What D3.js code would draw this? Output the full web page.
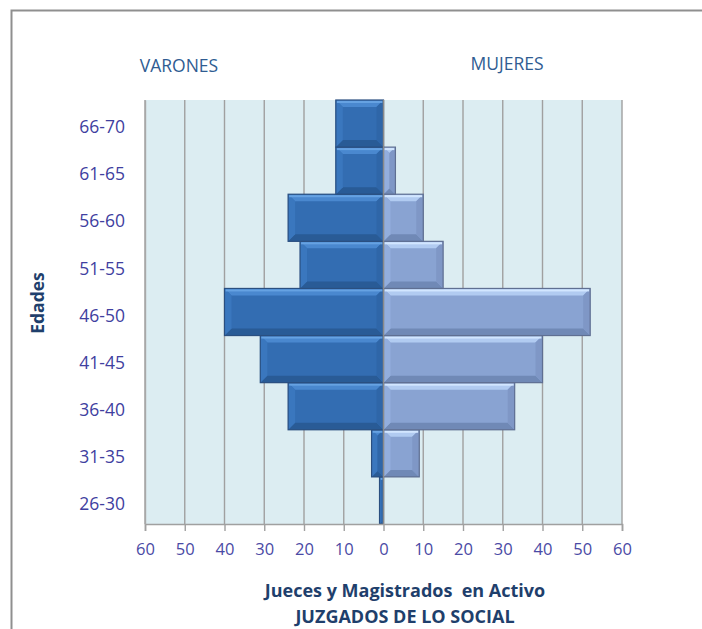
<!DOCTYPE html>
<html>
<head>
<meta charset="utf-8">
<script src="https://cdn.jsdelivr.net/npm/d3@7"></script>
<style>
  html, body { margin: 0; padding: 0; background: #fff; }
  svg { display: block; font-family: "Open Sans", sans-serif; }
</style>
</head>
<body>
<svg id="chart" width="702" height="629"></svg>
<script>
// Age groups, bottom to top
const categories = ["26-30", "31-35", "36-40", "41-45", "46-50", "51-55", "56-60", "61-65", "66-70"];
// Number of judges per age group
const varones = [1, 3, 24, 31, 40, 21, 24, 12, 12];
const mujeres = [0, 9, 33, 40, 52, 15, 10, 3, 0];
// Axis ticks (shown as absolute values on both sides)
const tickValues = [-60, -50, -40, -30, -20, -10, 0, 10, 20, 30, 40, 50, 60];

const svg = d3.select("#chart");

// Outer frame (left and top edges)
svg.append("path")
  .attr("d", "M11.5,629 L11.5,10.5 L702,10.5")
  .attr("fill", "none")
  .attr("stroke", "#8f8f8f")
  .attr("stroke-width", 2);

const plot = { left: 145, right: 622, top: 100, bottom: 524 };

const x = d3.scaleLinear().domain([-60, 60]).range([plot.left, plot.right]);
const y = d3.scaleBand().domain(categories.slice().reverse()).range([plot.top, plot.bottom]).padding(0);

// Plot background
svg.append("rect")
  .attr("x", plot.left).attr("y", plot.top)
  .attr("width", plot.right - plot.left).attr("height", plot.bottom - plot.top)
  .attr("fill", "#dcedf2");

// Vertical gridlines
svg.append("g").selectAll("line")
  .data(tickValues)
  .join("line")
  .attr("x1", d => x(d)).attr("x2", d => x(d))
  .attr("y1", plot.top).attr("y2", plot.bottom)
  .attr("stroke", "#a0a0a0")
  .attr("stroke-width", 1.4);

// Bevelled bar drawing
function bevelBar(g, x0, x1, y0, y1, pal) {
  const w = x1 - x0, h = y1 - y0;
  if (w <= 0) return;
  const b = Math.min(7, w / 2, h / 2);
  g.append("rect").attr("x", x0).attr("y", y0).attr("width", w).attr("height", h).attr("fill", pal.base);
  // top
  g.append("polygon").attr("points", [[x0, y0], [x1, y0], [x1 - b, y0 + b], [x0 + b, y0 + b]].join(" ")).attr("fill", pal.top);
  // bottom
  g.append("polygon").attr("points", [[x0, y1], [x1, y1], [x1 - b, y1 - b], [x0 + b, y1 - b]].join(" ")).attr("fill", pal.bottom);
  // left
  g.append("polygon").attr("points", [[x0, y0], [x0 + b, y0 + b], [x0 + b, y1 - b], [x0, y1]].join(" ")).attr("fill", pal.left);
  // right
  g.append("polygon").attr("points", [[x1, y0], [x1 - b, y0 + b], [x1 - b, y1 - b], [x1, y1]].join(" ")).attr("fill", pal.right);
  // top highlight strip
  g.append("rect").attr("x", x0 + 1).attr("y", y0 + 1).attr("width", Math.max(0, w - 2)).attr("height", Math.min(2, h)).attr("fill", pal.shine);
  // outline
  g.append("rect").attr("x", x0).attr("y", y0).attr("width", w).attr("height", h)
    .attr("fill", "none").attr("stroke", pal.edge).attr("stroke-width", 1.2);
}

const darkPal = { base: "#336db2", top: "#4a88cf", bottom: "#295b96", left: "#3a77be", right: "#2f66a8", shine: "#66a2e2", edge: "#2a4f80" };
const lightPal = { base: "#89a3d2", top: "#b1cbf1", bottom: "#7089b6", left: "#93aedd", right: "#7f97c6", shine: "#d2e6ff", edge: "#5f6f92" };

const bars = svg.append("g");
categories.forEach((c, i) => {
  const y0 = y(c), y1 = y(c) + y.bandwidth();
  bevelBar(bars, x(-varones[i]), x(0), y0, y1, darkPal);
  bevelBar(bars, x(0), x(mujeres[i]), y0, y1, lightPal);
});

// Zero line over the bars
svg.append("line")
  .attr("x1", x(0)).attr("x2", x(0)).attr("y1", plot.top).attr("y2", plot.bottom)
  .attr("stroke", "#8a8a8a").attr("stroke-width", 1.4);

const xAxis = d3.axisBottom(x)
  .tickValues(tickValues)
  .tickSize(7)
  .tickPadding(12)
  .tickFormat(d => Math.abs(d));

const gx = svg.append("g")
  .attr("transform", `translate(0,${plot.bottom})`)
  .call(xAxis);
gx.select(".domain").attr("stroke", "#a0a0a0").attr("stroke-width", 1.6);
gx.selectAll(".tick line").attr("stroke", "#a0a0a0").attr("stroke-width", 1.4);
gx.selectAll(".tick text")
  .attr("font-family", "Open Sans, sans-serif")
  .attr("font-size", 16.5)
  .attr("fill", "#4a4aa5");

// Category labels
const yAxis = d3.axisLeft(y).tickSize(0).tickPadding(20);
const gy = svg.append("g")
  .attr("transform", `translate(${plot.left},0)`)
  .call(yAxis);
gy.select(".domain").attr("stroke", "#a8a8a8").attr("stroke-width", 1.4);
gy.selectAll(".tick text")
  .attr("font-family", "Open Sans, sans-serif")
  .attr("font-size", 17.5)
  .attr("fill", "#4040a0")
  .attr("dy", "0.55em");

// Side headings
svg.append("text").attr("x", 179).attr("y", 72).attr("text-anchor", "middle")
  .attr("font-size", 17.5).attr("fill", "#2f5c92").text("VARONES");
svg.append("text").attr("x", 507).attr("y", 70).attr("text-anchor", "middle")
  .attr("font-size", 17.5).attr("fill", "#2f5c92").text("MUJERES");

// Axis title
svg.append("text")
  .attr("transform", "translate(44,303) rotate(-90)")
  .attr("text-anchor", "middle")
  .attr("font-size", 17.5).attr("font-weight", "bold").attr("fill", "#1f3f6c")
  .text("Edades");

// Chart title
const title = svg.append("text").attr("text-anchor", "middle")
  .attr("font-size", 18).attr("font-weight", "bold").attr("fill", "#1f3f6c");
title.append("tspan").attr("x", 405).attr("y", 597).attr("xml:space", "preserve").text("Jueces y Magistrados  en Activo");
title.append("tspan").attr("x", 405).attr("y", 623).text("JUZGADOS DE LO SOCIAL");
</script>
</body>
</html>
